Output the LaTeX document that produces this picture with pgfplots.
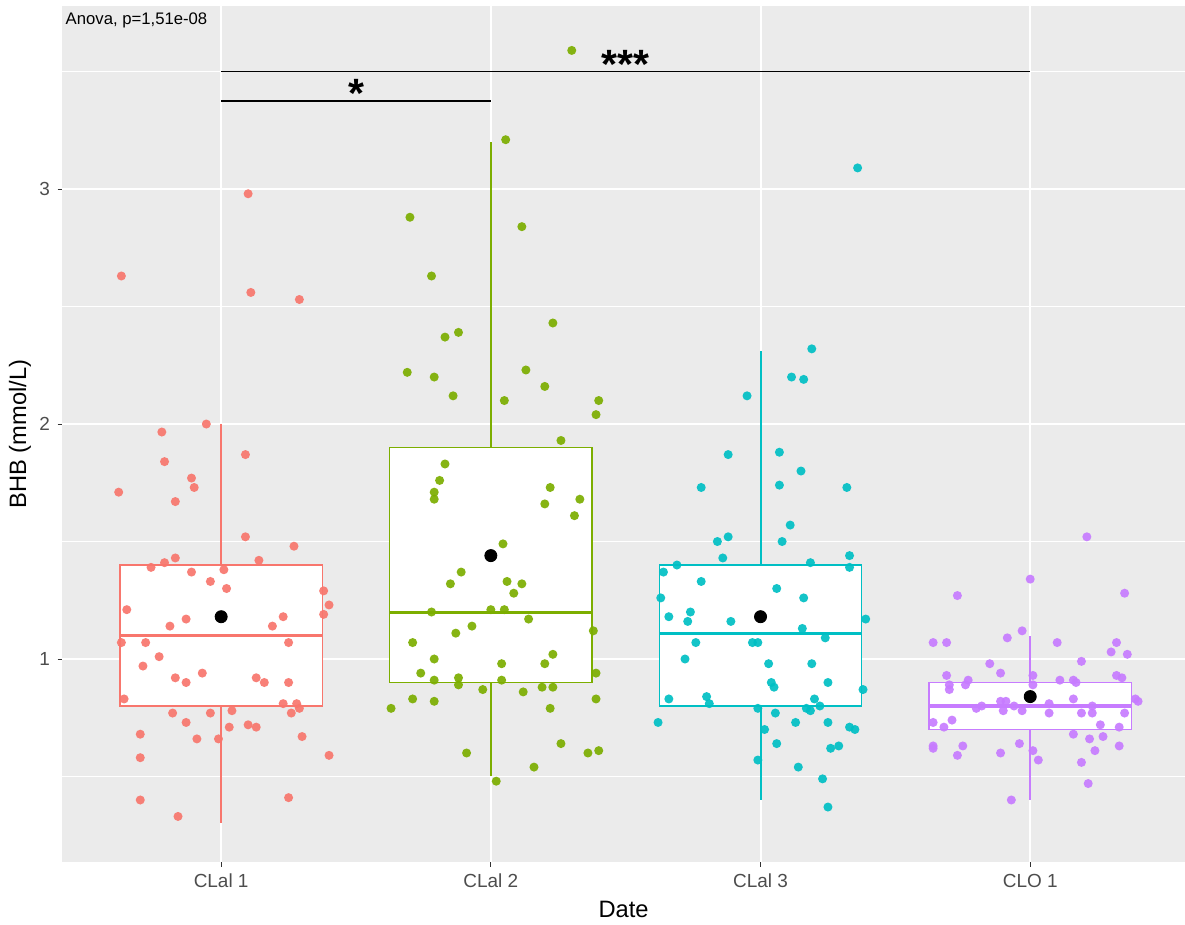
\documentclass[border=0pt]{standalone}
\usepackage{fontspec}
\setmainfont{Liberation Sans}
\usepackage{pgfplots}
\pgfplotsset{compat=1.18}
\definecolor{panelgrey}{HTML}{EBEBEB}
\definecolor{grey20}{HTML}{333333}
\definecolor{grey30}{HTML}{4D4D4D}
\definecolor{cA}{HTML}{F8766D}
\definecolor{cB}{HTML}{7CAE00}
\definecolor{cC}{HTML}{00BFC4}
\definecolor{cD}{HTML}{C77CFF}
\begin{document}
\begin{tikzpicture}
\begin{axis}[name=ax, scale only axis, width=521.2pt, height=397.3pt,
  xmin=-0.59, xmax=3.574, ymin=0.136, ymax=3.779,
  axis background/.style={fill=panelgrey},
  axis line style={draw=none},
  xmajorgrids, ymajorgrids, yminorgrids,
  major grid style={white, line width=0.9pt},
  minor grid style={white, line width=0.45pt},
  xtick={0,1,2,3}, xticklabels={CLal 1, CLal 2, CLal 3, CLO 1},
  ytick={1,2,3}, yticklabels={1,2,3},
  minor ytick={0.5,1.5,2.5,3.5},
  tick pos=left, tick align=outside,
  major tick length=2.1pt, minor tick length=0pt,
  tick style={color=grey20, line width=0.45pt},
  ticklabel style={font=\fontsize{8.8}{10}\selectfont, text=grey30},
  xlabel={Date}, ylabel={BHB (mmol/L)},
  label style={font=\fontsize{11}{13}\selectfont},
  xlabel style={at={(axis description cs:0.5,-0.056)}, anchor=center},
  ylabel style={at={(axis description cs:-0.0374,0.5)}, anchor=center},
  clip=false,
]
% ---- boxes: whiskers, box, median
\addplot[cA, line width=0.9pt] coordinates {(0,1.40) (0,2.00)};
\addplot[cA, line width=0.9pt] coordinates {(0,0.80) (0,0.30)};
\addplot[draw=cA, fill=white, line width=0.7pt] coordinates {(-0.375,0.80) (0.375,0.80) (0.375,1.40) (-0.375,1.40)} -- cycle;
\addplot[cA, line width=1.4pt] coordinates {(-0.375,1.10) (0.375,1.10)};

\addplot[cB, line width=0.9pt] coordinates {(1,1.90) (1,3.20)};
\addplot[cB, line width=0.9pt] coordinates {(1,0.90) (1,0.50)};
\addplot[draw=cB, fill=white, line width=0.7pt] coordinates {(0.625,0.90) (1.375,0.90) (1.375,1.90) (0.625,1.90)} -- cycle;
\addplot[cB, line width=1.4pt] coordinates {(0.625,1.20) (1.375,1.20)};

\addplot[cC, line width=0.9pt] coordinates {(2,1.40) (2,2.31)};
\addplot[cC, line width=0.9pt] coordinates {(2,0.80) (2,0.40)};
\addplot[draw=cC, fill=white, line width=0.7pt] coordinates {(1.625,0.80) (2.375,0.80) (2.375,1.40) (1.625,1.40)} -- cycle;
\addplot[cC, line width=1.4pt] coordinates {(1.625,1.11) (2.375,1.11)};

\addplot[cD, line width=0.9pt] coordinates {(3,0.90) (3,1.10)};
\addplot[cD, line width=0.9pt] coordinates {(3,0.70) (3,0.40)};
\addplot[draw=cD, fill=white, line width=0.7pt] coordinates {(2.625,0.70) (3.375,0.70) (3.375,0.90) (2.625,0.90)} -- cycle;
\addplot[cD, line width=1.4pt] coordinates {(2.625,0.80) (3.375,0.80)};

% ---- jittered points
\pgfplotsset{pts/.style={only marks, mark=*, mark size=2.1pt, mark options={draw opacity=0, fill opacity=0.92}}}
\addplot[pts, cA] table {
x y
-0.37 2.63
0.10 2.98
0.11 2.56
0.29 2.53
-0.055 2.00
-0.22 1.966
0.09 1.87
-0.21 1.84
-0.11 1.77
-0.10 1.73
-0.38 1.71
-0.17 1.67
0.09 1.52
0.27 1.48
-0.17 1.43
-0.21 1.41
0.14 1.42
-0.26 1.39
0.01 1.38
-0.11 1.37
-0.04 1.33
0.02 1.30
0.38 1.29
0.40 1.23
0.38 1.19
-0.35 1.21
-0.13 1.17
0.23 1.18
0.19 1.14
-0.19 1.14
-0.37 1.07
-0.28 1.07
0.25 1.07
-0.23 1.01
-0.29 0.97
-0.07 0.94
-0.17 0.92
-0.13 0.90
0.13 0.92
0.16 0.90
0.25 0.90
-0.36 0.83
0.23 0.81
0.28 0.81
0.29 0.79
-0.18 0.77
-0.04 0.77
0.04 0.78
0.26 0.77
-0.13 0.73
0.03 0.71
0.10 0.72
0.13 0.71
-0.30 0.68
-0.09 0.66
-0.01 0.66
0.30 0.67
-0.30 0.58
0.40 0.59
-0.30 0.40
0.25 0.41
-0.16 0.33
};
\addplot[pts, cB] table {
x y
1.30 3.59
1.055 3.21
0.70 2.88
1.115 2.84
0.78 2.63
1.23 2.43
0.88 2.39
0.83 2.37
0.69 2.22
0.79 2.20
1.13 2.23
1.20 2.16
0.86 2.12
1.05 2.10
1.40 2.10
1.39 2.04
1.26 1.93
0.83 1.83
0.81 1.76
0.79 1.71
1.22 1.73
1.33 1.68
0.79 1.68
1.20 1.66
1.31 1.61
1.045 1.49
0.89 1.37
0.85 1.32
1.06 1.33
1.115 1.32
1.085 1.28
0.78 1.20
1.00 1.21
1.05 1.21
1.14 1.17
0.93 1.14
0.87 1.11
1.38 1.12
0.71 1.07
0.79 1.00
1.23 1.02
1.04 0.98
1.20 0.98
0.74 0.94
1.39 0.94
0.79 0.91
0.88 0.92
0.88 0.89
1.04 0.91
0.97 0.87
1.12 0.86
1.19 0.88
1.23 0.88
0.71 0.83
0.79 0.82
1.39 0.83
0.63 0.79
1.22 0.79
0.91 0.60
1.26 0.64
1.36 0.60
1.40 0.61
1.16 0.54
1.02 0.48
};
\addplot[pts, cC] table {
x y
2.36 3.09
2.19 2.32
2.115 2.20
2.16 2.19
1.95 2.12
1.88 1.87
2.07 1.88
2.15 1.80
1.78 1.73
2.07 1.74
2.32 1.73
2.11 1.57
1.88 1.52
1.84 1.50
2.08 1.50
1.86 1.43
2.33 1.44
1.69 1.40
2.185 1.41
2.33 1.39
1.64 1.37
1.78 1.33
2.06 1.30
1.63 1.26
2.16 1.26
1.74 1.20
1.66 1.18
1.73 1.16
1.89 1.16
2.39 1.17
2.155 1.13
1.76 1.07
1.97 1.07
1.99 1.07
2.24 1.09
1.72 1.00
2.03 0.98
2.19 0.98
2.04 0.90
2.05 0.88
2.25 0.90
2.38 0.87
1.66 0.83
1.80 0.84
1.81 0.81
2.20 0.83
2.17 0.79
2.185 0.78
2.22 0.80
1.99 0.79
1.62 0.73
2.055 0.77
2.13 0.73
2.25 0.73
2.015 0.70
2.33 0.71
2.35 0.70
2.06 0.64
2.26 0.62
2.29 0.63
1.99 0.57
2.14 0.54
2.23 0.49
2.25 0.37
};
\addplot[pts, cD] table {
x y
3.21 1.52
3.00 1.34
2.73 1.27
3.35 1.28
2.97 1.12
2.64 1.07
2.69 1.07
2.915 1.09
3.10 1.07
3.32 1.07
3.30 1.03
3.36 1.02
2.85 0.98
3.19 0.99
2.69 0.93
2.89 0.94
3.01 0.93
3.32 0.93
3.34 0.92
2.77 0.91
2.76 0.89
2.70 0.89
2.70 0.87
3.01 0.89
3.11 0.91
3.16 0.91
3.17 0.90
3.39 0.83
3.40 0.82
2.89 0.82
2.91 0.82
3.16 0.83
2.82 0.80
2.80 0.79
2.94 0.80
2.97 0.78
2.90 0.78
3.07 0.81
3.07 0.77
3.23 0.80
3.23 0.77
3.19 0.77
3.35 0.77
2.64 0.73
2.71 0.74
2.68 0.71
3.26 0.72
3.33 0.71
3.16 0.68
3.27 0.67
3.22 0.66
2.64 0.63
2.64 0.62
2.75 0.63
2.96 0.64
3.33 0.63
3.01 0.61
3.24 0.61
2.73 0.59
2.89 0.60
3.03 0.57
3.19 0.56
3.215 0.47
2.93 0.40
};
% ---- means
\addplot[only marks, mark=*, mark size=2.8pt, black] coordinates {(0,1.18) (1,1.44) (2,1.18) (3,0.84)};
% ---- significance brackets
\addplot[black, line width=0.7pt] coordinates {(0,3.50) (3,3.50)};
\addplot[black, line width=0.7pt] coordinates {(0,3.375) (1,3.375)};
\node[anchor=base, inner sep=0pt, font=\fontsize{19}{19}\selectfont\bfseries] at (axis cs:1.5,3.472) {***};
\node[anchor=base, inner sep=0pt, font=\fontsize{19}{19}\selectfont\bfseries] at (axis cs:0.5,3.347) {*};
\node[anchor=west, inner sep=0pt, font=\fontsize{7.75}{9}\selectfont] at (axis cs:-0.578,3.719) {Anova, p=1,51e-08};
\end{axis}
\pgfresetboundingbox
\path ([xshift=-28.8pt,yshift=-28.8pt]ax.south west) rectangle ([yshift=2.8pt]ax.north east);
\end{tikzpicture}
\end{document}
